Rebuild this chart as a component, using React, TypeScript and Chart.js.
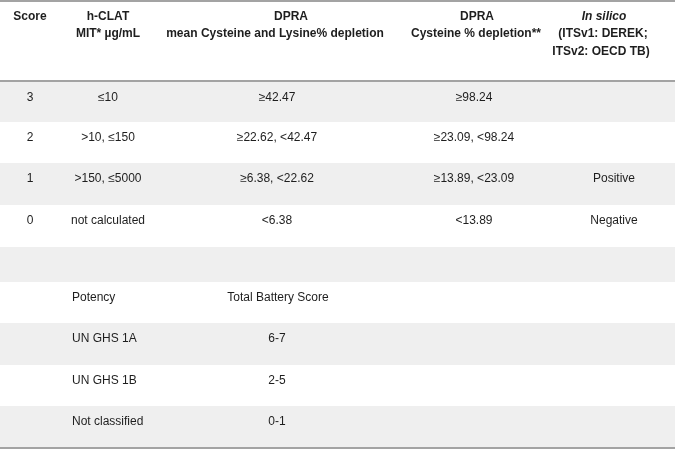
import React, { useEffect, useRef } from "react";
import { Chart, registerables } from "chart.js";

Chart.register(...registerables);

// ---- table content ----
const headerScore = ["Score"];
const headerHclat = ["h-CLAT", "MIT* µg/mL"];
const headerDpraMean = ["DPRA", "mean Cysteine and Lysine% depletion"];
const headerDpraCys = ["DPRA", "Cysteine % depletion**"];
const headerInSilico = ["In silico", "(ITSv1: DEREK;", "ITSv2: OECD TB)"];

const scores = ["3", "2", "1", "0"];
const hclatMIT = ["≤10", ">10, ≤150", ">150, ≤5000", "not calculated"];
const dpraMean = ["≥42.47", "≥22.62, <42.47", "≥6.38, <22.62", "<6.38"];
const dpraCys = ["≥98.24", "≥23.09, <98.24", "≥13.89, <23.09", "<13.89"];
const inSilico = ["", "", "Positive", "Negative"];

const potencyHeader = ["Potency", "Total Battery Score"];
const potencyClass = ["UN GHS 1A", "UN GHS 1B", "Not classified"];
const batteryScore = ["6-7", "2-5", "0-1"];

// ---- layout (pixel-like units of the linear scales) ----
const W = 675;
const H = 449;
const rowEdges = [82, 122, 163, 205, 247, 282, 323, 365, 406, 447];
const colCenters = [30, 108, 277, 474, 614];
const potencyLeft = 72;
const headerLineY = [16.5, 34, 51.5];
const FONT = "'Liberation Sans', Arial, sans-serif";
const TEXT = "#1e1e1e";

const tablePlugin = {
  id: "tablePlugin",
  beforeDatasetsDraw(chart: any) {
    const { ctx, scales } = chart;
    const xs = scales.x;
    const ys = scales.y;
    const px = (v: number) => xs.getPixelForValue(v);
    const py = (v: number) => ys.getPixelForValue(v);
    ctx.save();
    // stripes
    ctx.fillStyle = "#efefef";
    for (let r = 0; r < rowEdges.length - 1; r += 2) {
      ctx.fillRect(px(0), py(rowEdges[r]), px(W) - px(0), py(rowEdges[r + 1]) - py(rowEdges[r]));
    }
    // rules
    ctx.strokeStyle = "#a3a3a3";
    ctx.lineWidth = 2;
    [1, 81, 448].forEach((y) => {
      ctx.beginPath();
      ctx.moveTo(px(0), py(y));
      ctx.lineTo(px(W), py(y));
      ctx.stroke();
    });

    ctx.fillStyle = TEXT;
    ctx.textBaseline = "middle";
    ctx.textAlign = "center";
    const put = (t: string, x: number, y: number, font: string, align: CanvasTextAlign = "center") => {
      if (!t) return;
      ctx.font = font;
      ctx.textAlign = align;
      ctx.fillText(t, px(x), py(y));
    };
    const bold = `bold 12px ${FONT}`;
    const boldItalic = `italic bold 12px ${FONT}`;
    const reg = `12px ${FONT}`;

    // header
    put(headerScore[0], colCenters[0], headerLineY[0], bold);
    put(headerHclat[0], 108, headerLineY[0], bold);
    put(headerHclat[1], 108, headerLineY[1], bold);
    put(headerDpraMean[0], 291, headerLineY[0], bold);
    put(headerDpraMean[1], 275, headerLineY[1], bold);
    put(headerDpraCys[0], 477, headerLineY[0], bold);
    put(headerDpraCys[1], 476, headerLineY[1], bold);
    put(headerInSilico[0], 604, headerLineY[0], boldItalic);
    put(headerInSilico[1], 603, headerLineY[1], bold);
    put(headerInSilico[2], 601, headerLineY[2], bold);

    // score rows
    for (let i = 0; i < scores.length; i++) {
      const y = rowEdges[i] + 15.5;
      put(scores[i], colCenters[0], y, reg);
      put(hclatMIT[i], colCenters[1], y, reg);
      put(dpraMean[i], colCenters[2], y, reg);
      put(dpraCys[i], colCenters[3], y, reg);
      put(inSilico[i], colCenters[4], y, reg);
    }
    // potency block
    const pY = rowEdges[5] + 15.5;
    put(potencyHeader[0], potencyLeft, pY, reg, "left");
    put(potencyHeader[1], 278, pY, reg);
    for (let i = 0; i < potencyClass.length; i++) {
      const y = rowEdges[6 + i] + 15.5;
      put(potencyClass[i], potencyLeft, y, reg, "left");
      put(batteryScore[i], colCenters[2], y, reg);
    }
    ctx.restore();
  },
};

export default function App() {
  const ref = useRef<HTMLCanvasElement | null>(null);
  useEffect(() => {
    document.body.style.margin = "0";
    if (!ref.current) return;
    const chart = new Chart(ref.current, {
      type: "scatter",
      data: { datasets: [{ data: [], pointRadius: 0 }] },
      options: {
        animation: false,
        responsive: true,
        maintainAspectRatio: false,
        layout: { padding: 0 },
        plugins: { legend: { display: false }, tooltip: { enabled: false }, title: { display: false } },
        scales: {
          x: { type: "linear", min: 0, max: W, display: false },
          y: { type: "linear", min: 0, max: H, reverse: true, display: false },
        },
      },
      plugins: [tablePlugin],
    });
    return () => chart.destroy();
  }, []);
  return (
    <div style={{ position: "absolute", left: 0, top: 0, width: W, height: H, background: "#fff" }}>
      <canvas ref={ref} />
    </div>
  );
}
